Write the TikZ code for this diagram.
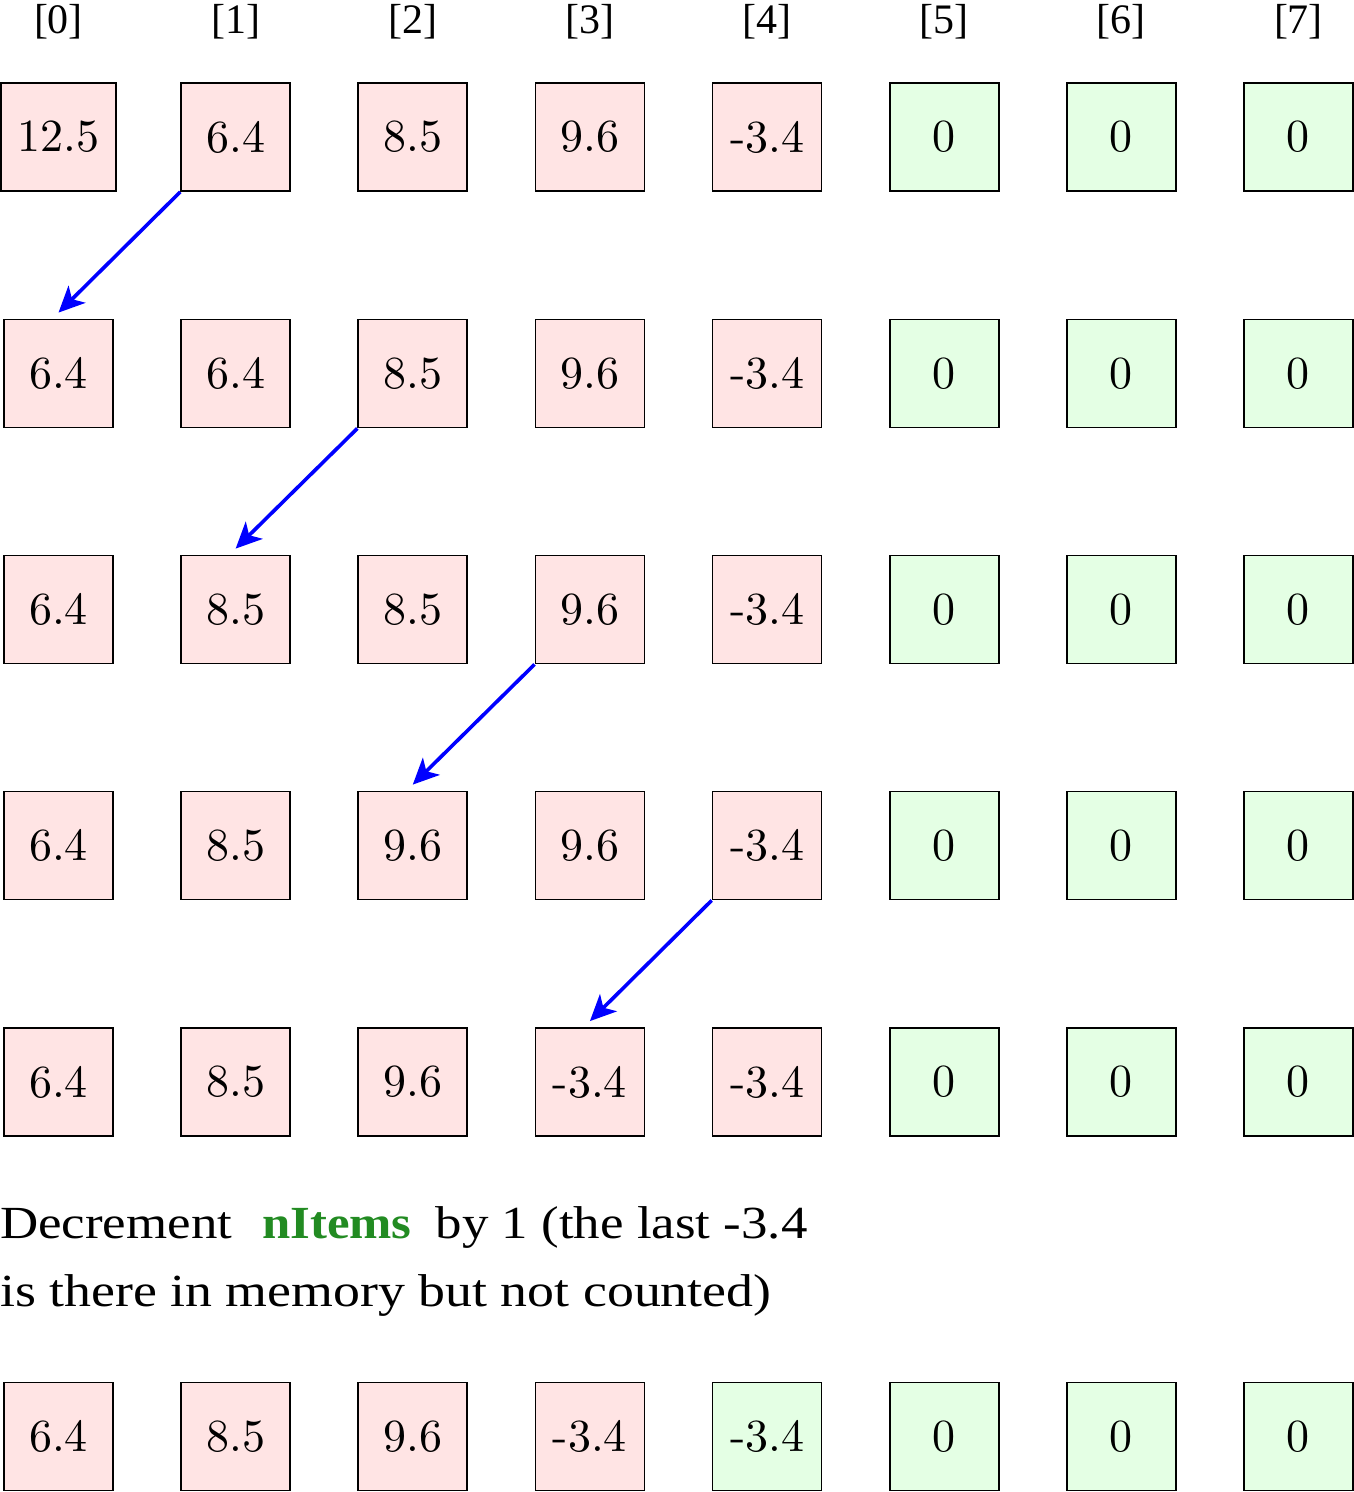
\documentclass[tikz,border=0pt]{standalone}
\usepackage{fontspec}
\newfontfamily\timesfont{Liberation Serif}
\newfontfamily\lmten{lmroman10-regular}[Extension=.otf]
\usetikzlibrary{arrows.meta}
\definecolor{pinkfill}{RGB}{255,228,228}
\definecolor{greenfill}{RGB}{228,255,228}
\definecolor{itemgreen}{RGB}{34,139,34}
\tikzset{
  cell/.style={draw=black, line width=1.8pt, minimum width=109pt, minimum height=108pt,
    inner xsep=17pt, inner ysep=0pt, font=\lmten\fontsize{46}{50}\selectfont},
  used/.style={cell, fill=pinkfill},
  free/.style={cell, fill=greenfill},
  idx/.style={anchor=base, inner sep=0pt, font=\timesfont\fontsize{42}{46}\selectfont},
  shiftarrow/.style={draw=blue, line width=3.6pt, -{Stealth[length=26pt,width=24pt,inset=7pt]}},
  note/.style={anchor=base west, inner sep=0pt, font=\timesfont\fontsize{46}{50}\selectfont}
}
\begin{document}
\begin{tikzpicture}[x=1pt,y=-1pt]
\useasboundingbox (0,0) rectangle (1354,1492);
% headers
\foreach \i in {0,...,7}{
  \node[idx] (h\i) at ({58.5+177.14*\i},33) {[\i]};
}
% rows
\foreach \r/\y/\vals/\np in {
  1/137/{12.5,6.4,8.5,9.6,-3.4,0,0,0}/4,
  2/373.5/{6.4,6.4,8.5,9.6,-3.4,0,0,0}/4,
  3/609.5/{6.4,8.5,8.5,9.6,-3.4,0,0,0}/4,
  4/845.5/{6.4,8.5,9.6,9.6,-3.4,0,0,0}/4,
  5/1082/{6.4,8.5,9.6,-3.4,-3.4,0,0,0}/4,
  6/1436.5/{6.4,8.5,9.6,-3.4,-3.4,0,0,0}/3}{
  \foreach \v [count=\k from 0] in \vals {
    \ifnum\k>\np
      \node[free] (r\r c\k) at ({58.5+177.14*\k},\y) {\v};
    \else
      \node[used] (r\r c\k) at ({58.5+177.14*\k},\y) {\v};
    \fi
  }
}
% shift arrows
\draw[shiftarrow] (r1c1.south west) -- ([yshift=6pt]r2c0.north);
\draw[shiftarrow] (r2c2.south west) -- ([yshift=6pt]r3c1.north);
\draw[shiftarrow] (r3c3.south west) -- ([yshift=6pt]r4c2.north);
\draw[shiftarrow] (r4c4.south west) -- ([yshift=6pt]r5c3.north);
% note
\node[note] (t1) at (0,1238) {\scalebox{1.15}[1]{Decrement\hspace{26pt}\textcolor{itemgreen}{\scalebox{0.96}[1]{\textbf{nItems}}}\hspace{21pt}by 1 (the last -3.4}};
\node[note] (t2) at (0,1306) {\scalebox{1.17}[1]{is there in memory but not counted)}};
\end{tikzpicture}
\end{document}
